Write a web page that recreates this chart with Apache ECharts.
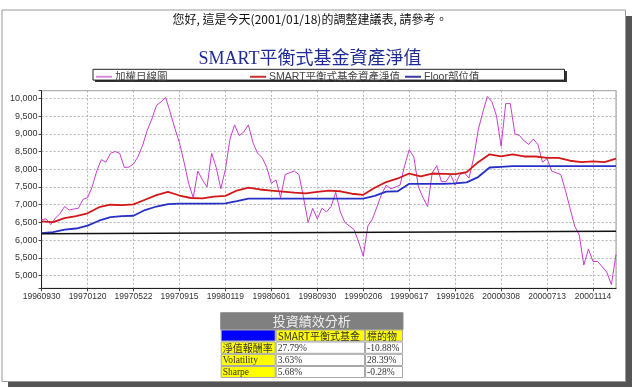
<!DOCTYPE html>
<html>
<head>
<meta charset="utf-8">
<title>SMART平衡式基金資產淨值</title>
<script src="https://cdn.jsdelivr.net/npm/echarts@6/dist/echarts.min.js"></script>
<style>
  html, body { margin: 0; padding: 0; background: #fff; }
  #chart { width: 639px; height: 388px; }
</style>
</head>
<body>
<div id="chart"></div>
<script>
// x 軸標籤 (每 10 個取樣點一個)
var xLabels = ['19960930', '19970120', '19970522', '19970915', '19980119', '19980601', '19980930',
  '19990206', '19990617', '19991026', '20000308', '20000713', '20001114'];

// 加權日線圖 (每點間隔 1)
var taiex = [6580, 6600, 6440, 6620, 6750, 6950, 6850, 6880, 6900, 7150,
  7200, 7500, 7950, 8270, 8200, 8450, 8500, 8450, 8050, 8060,
  8150, 8360, 8680, 9100, 9420, 9800, 9900, 10020, 9600, 9150,
  8750, 8200, 7600, 7200, 7950, 7700, 7500, 8450, 8050, 7450,
  8000, 8850, 9250, 8950, 9050, 9250, 8750, 8450, 8330, 8050,
  7600, 7700, 7200, 7850, 7900, 7950, 7850, 7200, 6500, 6900,
  6600, 6900, 6800, 6950, 7350, 6800, 6500, 6400, 6300, 5950,
  5550, 6400, 6600, 6950, 7300, 7550, 7450, 7500, 7550, 8100,
  8550, 8350, 7500, 7200, 6950, 7900, 8100, 7650, 7650, 7850,
  7550, 7850, 7900, 7750, 8300, 9100, 9600, 10050, 9900, 9500,
  8650, 9850, 9850, 9000, 8950, 8800, 8700, 8850, 8700, 8200,
  8300, 7950, 7900, 7850, 7400, 6900, 6400, 6150, 5300, 5750,
  5400, 5400, 5250, 5100, 4750, 5600];

// SMART平衡式基金資產淨值 (每點間隔 2.5)
var fundNav = [6530, 6510, 6620, 6680, 6760, 6930, 7000, 6990, 7010, 7140,
  7270, 7360, 7260, 7190, 7180, 7230, 7250, 7400, 7480, 7430,
  7400, 7370, 7340, 7320, 7360, 7400, 7380, 7310, 7280, 7480,
  7640, 7740, 7880, 7800, 7880, 7870, 7860, 7920, 8200, 8420,
  8360, 8420, 8360, 8360, 8320, 8320, 8240, 8200, 8220, 8200,
  8300];

// Floor部位值 (每點間隔 2.5)
var floorVal = [6200, 6230, 6300, 6330, 6410, 6550, 6650, 6680, 6690, 6850,
  6950, 7020, 7030, 7030, 7030, 7030, 7040, 7100, 7170, 7170,
  7170, 7170, 7170, 7170, 7170, 7170, 7170, 7170, 7170, 7250,
  7370, 7380, 7590, 7590, 7590, 7590, 7600, 7630, 7780, 8050,
  8070, 8090, 8090, 8090, 8090, 8090, 8090, 8090, 8090, 8090,
  8090];

// 起始 Floor 水平線 (起點, 終點)
var baseLine = [6180, 6250];

var tableTitle = '投資績效分析';
var tableHead = ['', 'SMART平衡式基金', '標的物'];
var rowNames = ['淨值報酬率', 'Volatility', 'Sharpe'];
var fundStats = ['27.79%', '3.63%', '5.68%'];
var benchStats = ['-10.88%', '28.39%', '-0.28%'];

var xStep = 10;
var xMax = 125;
var navStep = 2.5;

var cjk = "'Noto Sans CJK TC', sans-serif";
var sans = "'Liberation Sans', Arial, 'Noto Sans CJK TC', sans-serif";
var serif = "'Liberation Serif', 'Noto Sans CJK TC', serif";

var chart = echarts.init(document.getElementById('chart'));

function pairs(arr, step) {
  return arr.map(function (v, i) { return [i * step, v]; });
}

// 表格
var colX = [220.7, 275.7, 365, 403];
var rowY = [312.7, 329.5, 341.5, 353.8, 366, 378];
var tableEls = [];
tableEls.push({
  type: 'rect', shape: { x: colX[0], y: rowY[0], width: colX[3] - colX[0], height: rowY[1] - rowY[0] },
  style: { fill: '#808080', stroke: '#8a8a8a' }
});
tableEls.push({
  type: 'text', x: (colX[0] + colX[3]) / 2, y: (rowY[0] + rowY[1]) / 2,
  style: { text: tableTitle, fill: '#eeeeee', fontSize: 13, fontFamily: cjk, align: 'center', verticalAlign: 'middle' }
});
for (var r = 1; r <= 4; r++) {
  for (var c = 0; c < 3; c++) {
    var fill = '#ffffff';
    var txt = '';
    if (r === 1) {
      fill = c === 0 ? '#0000ff' : '#ffff00';
      txt = tableHead[c];
    } else {
      if (c === 0) { fill = '#ffff00'; txt = rowNames[r - 2]; }
      else if (c === 1) txt = fundStats[r - 2];
      else txt = benchStats[r - 2];
    }
    tableEls.push({
      type: 'rect',
      shape: { x: colX[c] + 0.5, y: rowY[r] + 0.5, width: colX[c + 1] - colX[c] - 1, height: rowY[r + 1] - rowY[r] - 1 },
      style: { fill: fill, stroke: '#a8a8a8', lineWidth: 1 }
    });
    if (txt) {
      var isCjk = /[\u4e00-\u9fff]/.test(txt);
      tableEls.push({
        type: 'text', x: colX[c] + 2, y: (rowY[r] + rowY[r + 1]) / 2 + 0.5,
        style: { text: txt, fill: '#333', fontSize: isCjk ? 10 : 9.5, fontFamily: isCjk ? cjk : serif, align: 'left', verticalAlign: 'middle' }
      });
    }
  }
}

var legendCommon = {
  top: 71.5, padding: 0, itemWidth: 16, itemHeight: 2, icon: 'rect', itemGap: 0,
  selectedMode: false,
  textStyle: { fontSize: 10.5, color: '#444', fontFamily: sans, padding: [0, 0, 0, -2] }
};

chart.setOption({
  animation: false,
  backgroundColor: '#ffffff',
  graphic: [
    { type: 'rect', z: -10, shape: { x: 8, y: 16, width: 624, height: 371 }, style: { fill: '#555555' } },
    { type: 'rect', z: -9, shape: { x: 2, y: 10, width: 623.5, height: 371.5 }, style: { fill: '#ffffff', stroke: '#9a9a9a' } },
    {
      type: 'text', x: 310, y: 19,
      style: { text: '您好, 這是今天(2001/01/18)的調整建議表, 請參考。', fill: '#111', fontSize: 12, fontFamily: cjk, align: 'center', verticalAlign: 'middle' }
    },
    {
      type: 'text', x: 310, y: 59,
      style: { text: 'SMART平衡式基金資產淨值', fill: '#1f2b95', fontSize: 18, fontFamily: serif, align: 'center', verticalAlign: 'middle' }
    },
    // 圖例框
    { type: 'rect', z: -1, shape: { x: 95, y: 71, width: 472, height: 11 }, style: { fill: '#333' } },
    { type: 'rect', z: -1, shape: { x: 93, y: 69.3, width: 471.5, height: 10.8 }, style: { fill: '#fff', stroke: '#222' } }
  ].concat(tableEls),
  legend: [
    Object.assign({ data: ['加權日線圖'], left: 96 }, legendCommon),
    Object.assign({ data: ['SMART平衡式基金資產淨值'], left: 250 }, legendCommon),
    Object.assign({ data: ['Floor部位值'], left: 405 }, legendCommon)
  ],
  grid: {
    left: 41.6, right: 23, top: 90.7, bottom: 99.7,
    show: true, borderColor: '#9a9a9a', borderWidth: 1, backgroundColor: '#fff'
  },
  xAxis: {
    type: 'value', min: 0, max: xMax, interval: xStep,
    axisLine: { show: true, onZero: false, lineStyle: { color: '#222' } },
    axisTick: { show: true, length: 3, lineStyle: { color: '#444' } },
    axisLabel: {
      fontSize: 8.5, color: '#333', margin: 4, fontFamily: sans, showMaxLabel: false,
      formatter: function (v) { return v % xStep === 0 ? (xLabels[v / xStep] || '') : ''; }
    },
    splitLine: { show: true, lineStyle: { color: '#b4b4b4', type: [2, 2] } }
  },
  yAxis: {
    type: 'value', min: 4645, max: 10214, splitNumber: 11,
    axisLine: { show: true, lineStyle: { color: '#222' } },
    axisTick: { show: true, length: 3, lineStyle: { color: '#444' } },
    axisLabel: {
      fontSize: 9, color: '#333', margin: 4, fontFamily: sans,
      formatter: function (v) { return v % 500 === 0 ? v.toLocaleString('en-US') : ''; }
    },
    splitLine: { show: true, lineStyle: { color: '#b4b4b4', type: [2, 2] } }
  },
  series: [
    {
      name: '加權日線圖', type: 'line', showSymbol: false, data: pairs(taiex, 1),
      lineStyle: { width: 1, color: '#c43fcc' }, itemStyle: { color: '#d98ad9' }
    },
    {
      name: 'SMART平衡式基金資產淨值', type: 'line', showSymbol: false, data: pairs(fundNav, navStep),
      lineStyle: { width: 1.8, color: '#d01818' }, itemStyle: { color: '#c83030' }
    },
    {
      name: 'Floor部位值', type: 'line', showSymbol: false, data: pairs(floorVal, navStep),
      lineStyle: { width: 1.8, color: '#2630c4' }, itemStyle: { color: '#3a3aa0' }
    },
    {
      name: 'base', type: 'line', showSymbol: false, data: [[0, baseLine[0]], [xMax, baseLine[1]]],
      lineStyle: { width: 1.5, color: '#111' }, itemStyle: { color: '#111' }
    }
  ]
});
</script>
</body>
</html>
